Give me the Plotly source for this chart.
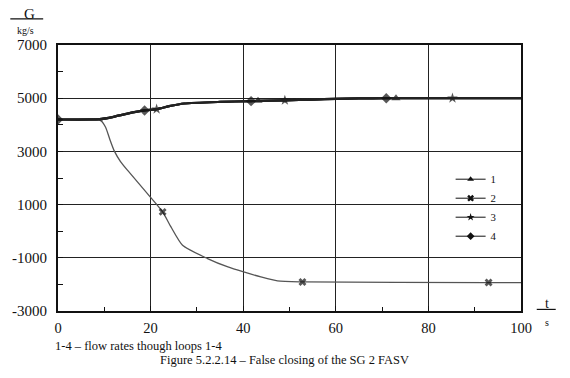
import plotly.graph_objects as go

# ---- data ----
# loops 1, 3, 4 : nearly identical rising curves
t1 = [0, 9, 12, 15, 18.7, 21.3, 24, 27.3, 35, 41.7, 43.2, 49, 55, 60, 65, 70.9, 73, 85.2, 100]
g1 = [4200, 4210, 4300, 4420, 4540, 4590, 4700, 4800, 4860, 4890, 4900, 4920, 4950, 4975, 4990, 5000, 5000, 5000, 5000]
t3 = [0, 9, 12, 15, 18.7, 21.3, 24, 27.3, 35, 41.7, 43.2, 49, 55, 60, 65, 70.9, 73, 85.2, 100]
g3 = [4200, 4210, 4300, 4420, 4540, 4590, 4700, 4800, 4860, 4890, 4900, 4920, 4950, 4975, 4990, 5000, 5000, 5000, 5000]
t4 = [0, 9, 12, 15, 18.7, 21.3, 24, 27.3, 35, 41.7, 43.2, 49, 55, 60, 65, 70.9, 73, 85.2, 100]
g4 = [4200, 4210, 4300, 4420, 4540, 4590, 4700, 4800, 4860, 4890, 4900, 4920, 4950, 4975, 4990, 5000, 5000, 5000, 5000]
# loop 2 : falls after closing
t2 = [0, 9.3, 10.3, 11.2, 12.2, 13.5, 15, 19.9, 22.6, 24.4, 26.9, 32.3, 36.7, 40.1, 43.8, 47.4, 52.8, 93, 100]
g2 = [4200, 4150, 3900, 3450, 3000, 2620, 2295, 1291, 726, 162, -527, -1028, -1344, -1532, -1720, -1871, -1908, -1930, -1930]

# times at which each curve carries its marker symbol
marks1 = [43.2, 73]
marks2 = [22.6, 52.8, 93]
marks3 = [21.3, 49, 85.2]
marks4 = [0, 18.7, 41.7, 70.9]

names = ["1", "2", "3", "4"]
x_ticks = [0, 20, 40, 60, 80, 100]
y_ticks = [-3000, -1000, 1000, 3000, 5000, 7000]
y_ticklabels = ["-3000", "-1000", "1000", "3000", "5000", "7000"]

FONT = "Liberation Serif"


def sizes(ts, marks, s):
    return [s if t in marks else 0 for t in ts]


fig = go.Figure()

specs = [
    # name, t, g, marks, symbol, line colour, line width, marker size
    (names[0], t1, g1, marks1, "triangle-up", "#222222", 2.2, 8),
    (names[1], t2, g2, marks2, "x", "#555555", 1.3, 7),
    (names[2], t3, g3, marks3, "star", "#222222", 2.2, 8),
    (names[3], t4, g4, marks4, "diamond", "#222222", 2.2, 8),
]

# curves (drawn 2 first so the black curves sit on top)
for name, t, g, marks, sym, col, lw, ms in [specs[1], specs[0], specs[2], specs[3]]:
    fig.add_trace(go.Scatter(x=t, y=g, name=name, mode="lines+markers", showlegend=False,
                             line=dict(color=col, width=lw, shape="spline", smoothing=0.6),
                             marker=dict(symbol=sym, color="#111111", size=sizes(t, marks, ms),
                                         line=dict(width=0))))

# legend keys (thin line with symbol)
for name, t, g, marks, sym, col, lw, ms in specs:
    fig.add_trace(go.Scatter(x=[None], y=[None], name=name, mode="lines+markers",
                             line=dict(color="#111111", width=1),
                             marker=dict(symbol=sym, color="#111111", size=6)))

fig.update_layout(
    width=570, height=378,
    margin=dict(l=56, r=49, t=45, b=67),
    paper_bgcolor="white", plot_bgcolor="white",
    font=dict(family=FONT, size=15, color="#111111"),
    showlegend=True,
    legend=dict(x=0.848, y=0.55, xanchor="left", yanchor="top",
                bgcolor="rgba(0,0,0,0)", borderwidth=0,
                font=dict(family=FONT, size=10.8), itemwidth=30, tracegroupgap=0),
)
fig.update_xaxes(range=[0, 100], tickvals=x_ticks, ticks="inside", ticklen=5,
                 tickcolor="#111111", showgrid=True, gridcolor="#222222", gridwidth=1,
                 showline=True, linecolor="#111111", linewidth=2, mirror=True,
                 zeroline=False, ticklabelstandoff=3, tickfont=dict(size=14.5),
                 minor=dict(dtick=10, ticks="inside", ticklen=4, tickcolor="#111111", showgrid=False))
fig.update_yaxes(range=[-3000, 7000], tickvals=y_ticks, ticktext=y_ticklabels,
                 ticks="inside", ticklen=5, tickcolor="#111111",
                 showgrid=True, gridcolor="#222222", gridwidth=1,
                 showline=True, linecolor="#111111", linewidth=2, mirror=True,
                 zeroline=False, ticklabelstandoff=6, tickfont=dict(size=15),
                 minor=dict(dtick=1000, ticks="inside", ticklen=5, tickcolor="#111111", showgrid=False))

ann = [
    dict(text="G", x=-0.062, y=1.115, size=15),
    dict(text="kg/s", x=-0.071, y=1.056, size=10),
    dict(text="t", x=1.056, y=0.03, size=14),
    dict(text="s", x=1.056, y=-0.042, size=10),
]
for a in ann:
    fig.add_annotation(text=a["text"], x=a["x"], y=a["y"], xref="paper", yref="paper",
                       showarrow=False, font=dict(family=FONT, size=a["size"]),
                       xanchor="center", yanchor="middle")
fig.add_annotation(text="1-4 – flow rates though loops 1-4", x=-0.011, y=-0.131,
                   xref="paper", yref="paper", showarrow=False, xanchor="left", yanchor="middle",
                   font=dict(family=FONT, size=12.5))
fig.add_annotation(text="Figure 5.2.2.14 – False closing of the SG 2 FASV", x=0.489, y=-0.184,
                   xref="paper", yref="paper", showarrow=False, xanchor="center", yanchor="middle",
                   font=dict(family=FONT, size=12.5))
fig.add_shape(type="line", xref="paper", yref="paper", x0=-0.103, x1=-0.032, y0=1.098, y1=1.098,
              line=dict(color="#111111", width=1.2))
fig.add_shape(type="line", xref="paper", yref="paper", x0=1.034, x1=1.075, y0=0.006, y1=0.006,
              line=dict(color="#111111", width=1.2))

fig.write_html("out.html", config={"displayModeBar": False},
               post_script="document.body.style.margin='0';document.body.style.padding='0';")
